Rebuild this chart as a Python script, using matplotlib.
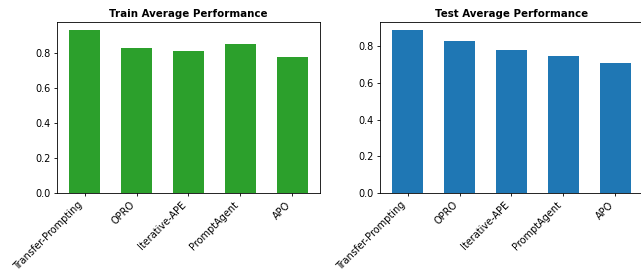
import matplotlib.pyplot as plt

methods = ['Transfer-Prompting', 'OPRO', 'Iterative-APE', 'PromptAgent', 'APO']
train_scores = [0.931, 0.827, 0.810, 0.851, 0.775]
test_scores = [0.889, 0.829, 0.780, 0.747, 0.709]

fig = plt.figure(figsize=(6.41, 2.72), dpi=100)
ax1 = fig.add_axes([0.0889, 0.2904, 0.4103, 0.6286])
ax2 = fig.add_axes([0.5928, 0.2904, 0.4103, 0.6286])

ax1.bar(methods, train_scores, color='#2ca02c', width=0.6)
ax1.set_title('Train Average Performance', fontsize=7.4, fontweight='bold', pad=3.7)

ax2.bar(methods, test_scores, color='#1f77b4', width=0.6)
ax2.set_title('Test Average Performance', fontsize=7.4, fontweight='bold', pad=3.7)

for ax in (ax1, ax2):
    ax.tick_params(labelsize=7, length=2.5, width=0.6, pad=2.2)
    for s in ax.spines.values():
        s.set_linewidth(0.6)
    plt.setp(ax.get_xticklabels(), rotation=45, ha='right')

fig.savefig('out.png', dpi=100)
